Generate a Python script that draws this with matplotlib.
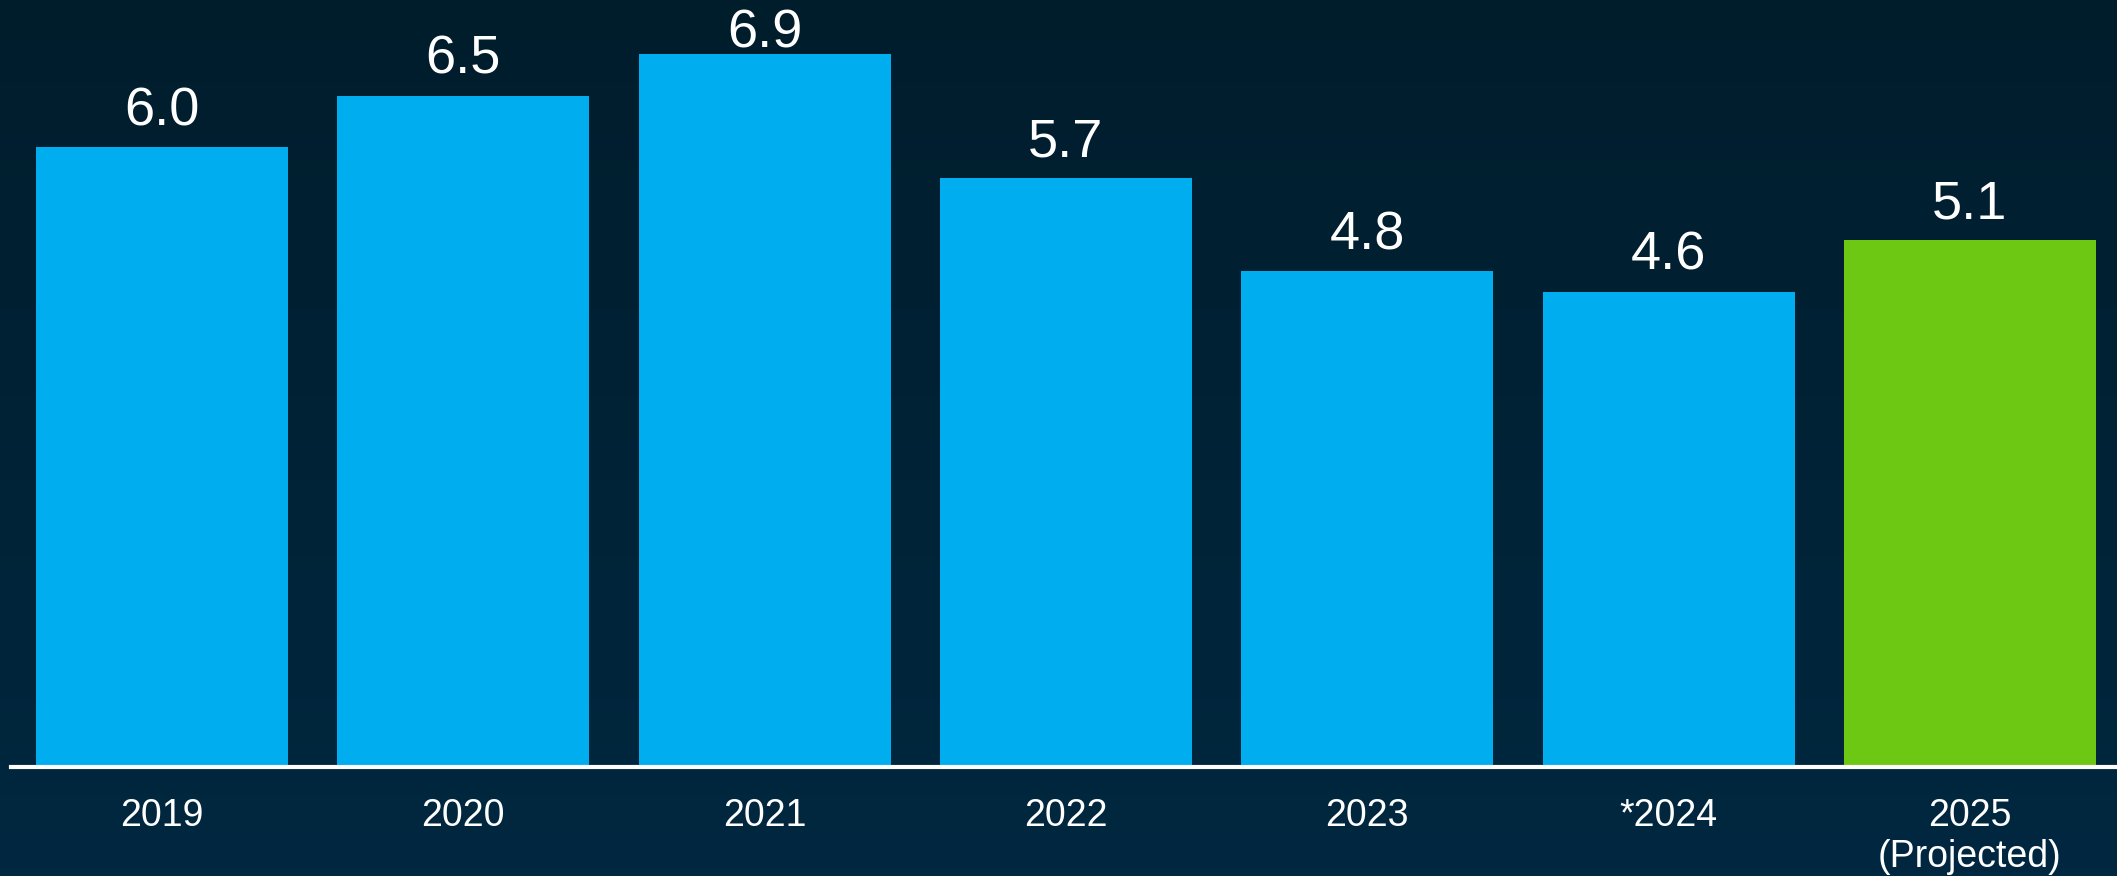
import matplotlib.pyplot as plt
import numpy as np

years = ["2019", "2020", "2021", "2022", "2023", "*2024", "2025\n(Projected)"]
values = [6.0, 6.5, 6.9, 5.7, 4.8, 4.6, 5.1]
bar_colors = ["#00AEEF"] * 6 + ["#6CC812"]

plt.rcParams["font.family"] = ["Liberation Sans", "DejaVu Sans"]

W, H = 2117, 876
fig = plt.figure(figsize=(W / 100, H / 100), dpi=100)

# background gradient (darker at top)
bg = fig.add_axes([0, 0, 1, 1])
grad = np.linspace(0, 1, 256).reshape(-1, 1)
top = np.array([0x01, 0x1d, 0x2c]) / 255
bottom = np.array([0x00, 0x28, 0x40]) / 255
img = top + (bottom - top) * grad[:, :, None]
bg.imshow(img, aspect="auto", extent=[0, 1, 0, 1], origin="upper")
bg.axis("off")

ax_h = 767
ax = fig.add_axes([11 / W, (H - ax_h) / H, 1 - 11 / W, ax_h / H])
ax.patch.set_alpha(0)
x = np.arange(len(years))
bars = ax.bar(x, values, width=0.836, color=bar_colors, zorder=2)

ymax = 7.425
ax.set_xlim(-0.501, 6.488)
ax.set_ylim(0, ymax)

for spine in ["top", "right", "left"]:
    ax.spines[spine].set_visible(False)
ax.spines["bottom"].set_color("white")
ax.spines["bottom"].set_linewidth(3)
ax.spines["bottom"].set_zorder(3)

ax.set_yticks([])
ax.set_xticks(x)
ax.set_xticklabels(years, color="white", fontsize=27, linespacing=1.2)
ax.tick_params(axis="x", length=0, pad=22)

# value labels: baseline ~22px above bar, but keep inside the top of the figure
ppu = ax_h / ymax
for bar, v in zip(bars, values):
    y = min(v + 22 / ppu, (ax_h - 47) / ppu)
    ax.text(bar.get_x() + bar.get_width() / 2, y, f"{v:.1f}",
            ha="center", va="baseline", color="white", fontsize=39,
            clip_on=False)

fig.savefig("out.png", dpi=100)
